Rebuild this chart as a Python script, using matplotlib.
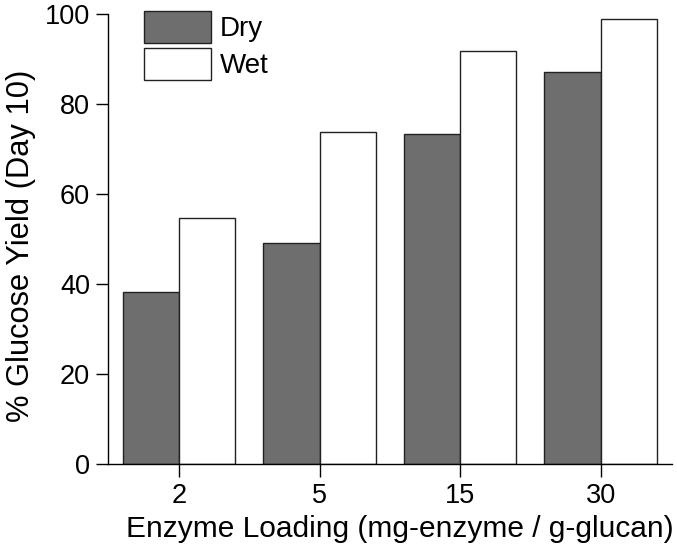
import matplotlib
matplotlib.use("Agg")
import matplotlib.pyplot as plt
import numpy as np

categories = ["2", "5", "15", "30"]
dry = [38.2, 49.0, 73.3, 87.1]
wet = [54.6, 73.8, 91.8, 98.9]

plt.rcParams['font.family'] = ['Liberation Sans', 'DejaVu Sans']

fig = plt.figure(figsize=(6.77, 5.5), dpi=100)
ax = fig.add_axes([0.1595, 0.157, 0.8325, 0.8175])

x = np.arange(len(categories))
w = 0.4
ax.bar(x - w/2, dry, w, color='#6e6e6e', edgecolor='#222222', linewidth=1.0, label='Dry')
ax.bar(x + w/2, wet, w, color='white', edgecolor='#222222', linewidth=1.0, label='Wet')

ax.set_xlim(-0.505, 3.505)
ax.set_ylim(0, 100)
ax.set_yticks([0, 20, 40, 60, 80, 100])
ax.set_xticks(x)
ax.set_xticklabels(categories)
ax.tick_params(axis='both', direction='out', length=9, width=1, labelsize=19.5, color='black')
ax.tick_params(axis='x', pad=5)
ax.tick_params(axis='y', pad=4)
for s in ['top', 'right']:
    ax.spines[s].set_visible(False)
for s in ['left', 'bottom']:
    ax.spines[s].set_linewidth(1.0)

ax.set_xlabel('Enzyme Loading (mg-enzyme / g-glucan)', fontsize=21.5, labelpad=4)
ax.set_ylabel('% Glucose Yield (Day 10)', fontsize=22.2, labelpad=6)
ax.xaxis.label.set_x(0.517)
ax.yaxis.label.set_y(0.485)

leg = ax.legend(loc='upper left', bbox_to_anchor=(144/677, 1 - 11/550), bbox_transform=fig.transFigure,
                frameon=False, fontsize=20, handlelength=2.4, handleheight=1.42,
                labelspacing=0.16, handletextpad=0.33, borderpad=0, borderaxespad=0)

fig.savefig('out.png', dpi=100)
